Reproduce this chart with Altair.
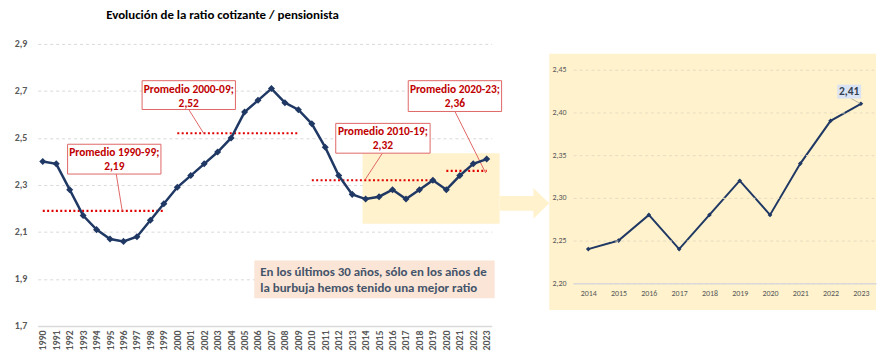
import altair as alt
import pandas as pd

# ---------------- data ----------------
years = list(range(1990, 2024))
ratio = [2.40, 2.39, 2.28, 2.17, 2.11, 2.07, 2.06, 2.08, 2.15, 2.22,
         2.29, 2.34, 2.39, 2.44, 2.50, 2.61, 2.66, 2.71, 2.65, 2.62,
         2.56, 2.46, 2.34, 2.26, 2.24, 2.25, 2.28, 2.24, 2.28, 2.32,
         2.28, 2.34, 2.39, 2.41]
period_start = [1990, 2000, 2010, 2020]
period_end = [1999, 2009, 2019, 2023]
zoom_from = 2014
left_ticks = [1.7, 1.9, 2.1, 2.3, 2.5, 2.7, 2.9]
right_ticks = [2.20, 2.25, 2.30, 2.35, 2.40, 2.45]
title_text = "Evolución de la ratio cotizante / pensionista"
note_lines = ["En los últimos 30 años, sólo en los años de",
              "la burbuja hemos tenido una mejor ratio"]

df = pd.DataFrame({"year": years, "ratio": ratio})
avg_rows = []
for s, e in zip(period_start, period_end):
    sub = df[(df.year >= s) & (df.year <= e)]
    m = round(sub.ratio.mean(), 2)
    avg_rows.append({"start": s, "end": e, "avg": m,
                     "l1": f"Promedio {s}-{str(e)[-2:]};",
                     "l2": f"{m:.2f}".replace(".", ",")})
avg_df = pd.DataFrame(avg_rows)
zoom_df = df[df.year >= zoom_from].reset_index(drop=True)
last_df = zoom_df.tail(1).copy()
last_df["lbl"] = last_df.ratio.map(lambda v: f"{v:.2f}".replace(".", ","))

# ---------------- style ----------------
FONT = "Calibri, Carlito, Lato, sans-serif"
NAVY = "#1F3864"
RED = "#C00000"
DOT_RED = "#E00000"
BOX_RED = "#E06666"
YELLOW = "#FFF2CC"
GRID = "#D9D9D9"
LABEL = "#595959"

WL, HL = 457, 284
WR, HR = 305, 241

one = alt.Data(values=[{}])

# annotation layout (pixel positions in left plot)
boxes = [(30, 124, 101, 131), (105, 199, 37, 66), (300, 395, 80, 110), (373, 467, 37, 68)]
leaders = [(79, 131, 85, 168), (152, 66, 167, 90), (347, 110, 330, 136), (420, 68, 451, 130)]

xL = alt.X("year:O", scale=alt.Scale(type="point", padding=0.37, domain=years),
           axis=alt.Axis(title=None, labelAngle=-90, ticks=False, domainColor=GRID,
                         domainWidth=1.5, labelFontWeight="bold", labelFontSize=10,
                         labelColor=LABEL, labelPadding=4, grid=False))
yL = alt.Y("ratio:Q", scale=alt.Scale(domain=[1.7, 2.9], nice=False, zero=False),
           axis=alt.Axis(title=None, values=left_ticks, domain=False, ticks=False,
                         labelExpr="replace(format(datum.value, '.1f'), '.', ',')",
                         grid=True, gridDash=[3, 3], gridColor=GRID,
                         labelFontWeight="bold", labelFontSize=10, labelColor=LABEL,
                         labelPadding=11))

base = alt.Chart(df)

highlight = alt.Chart(one).mark_rect(color=YELLOW).encode(
    x=alt.value(327), x2=alt.value(465), y=alt.value(110), y2=alt.value(181))
ARROW = "M-1,-0.3L0.36,-0.3L0.36,-0.62L1,0L0.36,0.62L0.36,0.3L-1,0.3Z"
arrow = alt.Chart(one).mark_point(shape=ARROW, filled=True, size=2500, color=YELLOW,
                                  opacity=1, strokeWidth=0).encode(
    x=alt.value(490), y=alt.value(160.5))

avg_rules = alt.Chart(avg_df).mark_rule(color=DOT_RED, strokeDash=[2, 2.4], strokeWidth=2.2).encode(
    x=alt.X("start:O", scale=alt.Scale(type="point", padding=0.37, domain=years)),
    x2="end", y=alt.Y("avg:Q"))

line = base.mark_line(color=NAVY, strokeWidth=2.5).encode(x=xL, y=yL)
pts = base.mark_point(shape="diamond", filled=True, size=50, color=NAVY, opacity=1).encode(x=xL, y=yL)

layers = [highlight, arrow, avg_rules]
for (x0, y0, x1, y1) in leaders:
    layers.append(alt.Chart(one).mark_rule(color=BOX_RED, strokeWidth=1).encode(
        x=alt.value(x0), y=alt.value(y0), x2=alt.value(x1), y2=alt.value(y1)))
layers += [line, pts]
for row, (bx0, bx1, by0, by1) in zip(avg_rows, boxes):
    layers.append(alt.Chart(one).mark_rect(fill="white", stroke=BOX_RED, strokeWidth=1).encode(
        x=alt.value(bx0), x2=alt.value(bx1), y=alt.value(by0), y2=alt.value(by1)))
    cx = (bx0 + bx1) / 2
    layers.append(alt.Chart(one).mark_text(text=row["l1"], font=FONT, fontSize=11.5,
                                           fontWeight="bold", color=RED).encode(
        x=alt.value(cx), y=alt.value(by0 + 9)))
    layers.append(alt.Chart(one).mark_text(text=row["l2"], font=FONT, fontSize=11.5,
                                           fontWeight="bold", color=RED).encode(
        x=alt.value(cx), y=alt.value(by0 + 23)))

note_bg = alt.Chart(one).mark_rect(color="#FBE5D6").encode(
    x=alt.value(218), x2=alt.value(460), y=alt.value(218), y2=alt.value(256))
layers.append(note_bg)
for i, t in enumerate(note_lines):
    layers.append(alt.Chart(one).mark_text(text=t, font=FONT, fontSize=13, fontWeight="bold",
                                           color="#44546A", align="left").encode(
        x=alt.value(224), y=alt.value(230 + 16 * i)))
layers.append(alt.Chart(one).mark_text(text=title_text, font=FONT, fontSize=13,
                                       fontWeight="bold", color="black").encode(
    x=alt.value(186), y=alt.value(-29)))

left = alt.layer(*layers).properties(width=WL, height=HL)

# ---------------- right panel ----------------
xR = alt.X("year:O", scale=alt.Scale(type="point", padding=0.5),
           axis=alt.Axis(title=None, labelAngle=0, ticks=False, domainColor=GRID,
                         domainWidth=1.5, labelFontSize=8, labelColor=LABEL,
                         labelPadding=6, grid=False, zindex=1))
yR = alt.Y("ratio:Q", scale=alt.Scale(domain=[2.20, 2.48], nice=False, zero=False),
           axis=alt.Axis(title=None, values=right_ticks, domain=False, ticks=False,
                         labelExpr="replace(format(datum.value, '.2f'), '.', ',')",
                         grid=True, gridDash=[3, 3], gridColor="#E6DCC0",
                         labelFontSize=8, labelColor=LABEL, labelPadding=7, zindex=1))
rbase = alt.Chart(zoom_df)
rbg = alt.Chart(one).mark_rect(color=YELLOW).encode(
    x=alt.value(-24), x2=alt.value(WR), y=alt.value(10), y2=alt.value(268))
rline = rbase.mark_line(color=NAVY, strokeWidth=2).encode(x=xR, y=yR)
rpts = rbase.mark_point(shape="diamond", filled=True, size=22, color=NAVY, opacity=1).encode(x=xR, y=yR)
rlead = alt.Chart(one).mark_rule(color="#A6A6A6", strokeWidth=0.8).encode(
    x=alt.value(280), y=alt.value(55), x2=alt.value(289), y2=alt.value(60))
rbox = alt.Chart(one).mark_rect(color="#DAE3F3").encode(
    x=alt.value(266), x2=alt.value(290), y=alt.value(41), y2=alt.value(55))
rtext = alt.Chart(last_df).mark_text(font=FONT, fontSize=11.5, fontWeight="bold",
                                     color="#333F50").encode(
    x=alt.value(278), y=alt.value(48.5), text="lbl:N")
right = alt.layer(rbg, rline, rpts, rlead, rbox, rtext).properties(width=WR, height=HR)

chart = alt.hconcat(left, right, spacing=82, bounds="flush").properties(
    padding={"left": 6, "top": 0, "right": 5, "bottom": 0}
).configure(font=FONT).configure_view(stroke=None)

chart.save("out.html", embed_options={"renderer": "svg", "actions": False})
